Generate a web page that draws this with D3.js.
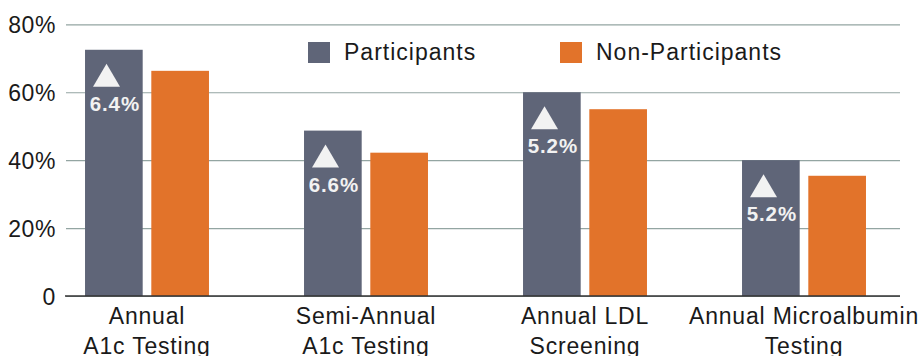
<!DOCTYPE html>
<html>
<head>
<meta charset="utf-8">
<script src="https://cdn.jsdelivr.net/npm/d3@7"></script>
<style>
  body { margin: 0; background: #fff; }
  svg text { font-family: "Liberation Sans", Arial, sans-serif; }
</style>
</head>
<body>
<div id="chart"></div>
<script>
// Chart data
var categories = [["Annual", "A1c Testing"], ["Semi-Annual", "A1c Testing"], ["Annual LDL", "Screening"], ["Annual Microalbumin", "Testing"]];
var seriesNames = ["Participants", "Non-Participants"];
var participants = [72.5, 48.7, 60, 40];
var nonParticipants = [66.3, 42.2, 55, 35.4];
var increases = ["6.4%", "6.6%", "5.2%", "5.2%"];
var yTicks = [0, 20, 40, 60, 80];

var colors = { "Participants": "#5f6578", "Non-Participants": "#e2732a" };

var svgWidth = 920;
var svgHeight = 356;

var svg = d3.select("#chart")
  .append("svg")
  .attr("width", svgWidth)
  .attr("height", svgHeight);

// scales
var yScale = d3.scaleLinear()
  .domain([0, 80])
  .range([296, 24.3]);

var x0 = d3.scaleBand()
  .domain(d3.range(categories.length))
  .range([37.5, 913.5])
  .paddingInner(0.434)
  .paddingOuter(0.217);

var x1 = d3.scaleBand()
  .domain(seriesNames)
  .range([0, x0.bandwidth()])
  .paddingInner(0.13);

var rows = categories.map(function(c, i) {
  return { i: i, label: c, values: [participants[i], nonParticipants[i]], inc: increases[i] };
});

// gridlines + y labels
var yAxis = d3.axisLeft(yScale)
  .tickValues(yTicks)
  .tickSize(-(900 - 66))
  .tickPadding(10)
  .tickFormat(function(d) { return d === 0 ? "0" : d + "%"; });

var yG = svg.append("g")
  .attr("transform", "translate(66,0)")
  .call(yAxis);
yG.select(".domain").remove();
yG.selectAll(".tick line")
  .attr("stroke", "#93a5a2")
  .attr("stroke-width", 1.2);
yG.selectAll(".tick text")
  .attr("font-size", 23)
  .attr("letter-spacing", 0.6)
  .attr("fill", "#1a1a1a")
  .attr("dy", "0.36em");

// bars
var groups = svg.selectAll(".group")
  .data(rows)
  .enter()
  .append("g")
  .attr("transform", d => `translate(${x0(d.i)},0)`);

groups.selectAll("rect")
  .data(d => d.values.map((v, k) => ({ key: seriesNames[k], value: v })))
  .enter()
  .append("rect")
  .attr("x", d => x1(d.key))
  .attr("y", d => yScale(d.value))
  .attr("width", x1.bandwidth())
  .attr("height", d => yScale(0) - yScale(d.value))
  .attr("fill", d => colors[d.key]);

// increase annotations in participant bars
groups.append("path")
  .attr("d", function(d) {
    var left = x1("Participants") + 8;
    var top = yScale(d.values[0]) + 14;
    return `M${left},${top + 23}L${left + 13.5},${top}L${left + 27},${top + 23}Z`;
  })
  .attr("fill", "#f2f2f2");

groups.append("text")
  .attr("x", x1("Participants") + x1.bandwidth() / 2 + 1)
  .attr("y", d => yScale(d.values[0]) + 61)
  .attr("text-anchor", "middle")
  .attr("font-size", 20.5)
  .attr("font-weight", "bold")
  .attr("letter-spacing", 0.9)
  .attr("fill", "#f2f2f2")
  .text(d => d.inc);

// baseline
svg.append("line")
  .attr("x1", 65)
  .attr("x2", 900)
  .attr("y1", yScale(0))
  .attr("y2", yScale(0))
  .attr("stroke", "#333")
  .attr("stroke-width", 1.5);

// category labels (second line runs off the bottom edge, as in the original)
groups.append("text")
  .attr("text-anchor", "middle")
  .attr("x", x0.bandwidth() / 2)
  .attr("font-size", 23)
  .attr("letter-spacing", 0.8)
  .attr("fill", "#1a1a1a")
  .selectAll("tspan")
  .data(d => d.label)
  .enter()
  .append("tspan")
  .attr("x", x0.bandwidth() / 2)
  .attr("y", (d, k) => 324 + k * 29.5)
  .text(d => d);

// legend
var legend = svg.append("g");
var legendX = [308, 560];
seriesNames.forEach(function(name, k) {
  legend.append("rect")
    .attr("x", legendX[k])
    .attr("y", 42)
    .attr("width", 22)
    .attr("height", 21)
    .attr("fill", colors[name]);
  legend.append("text")
    .attr("x", legendX[k] + 36)
    .attr("y", 60)
    .attr("font-size", 23)
    .attr("letter-spacing", 1.0)
    .attr("fill", "#1a1a1a")
    .text(name);
});
</script>
</body>
</html>
